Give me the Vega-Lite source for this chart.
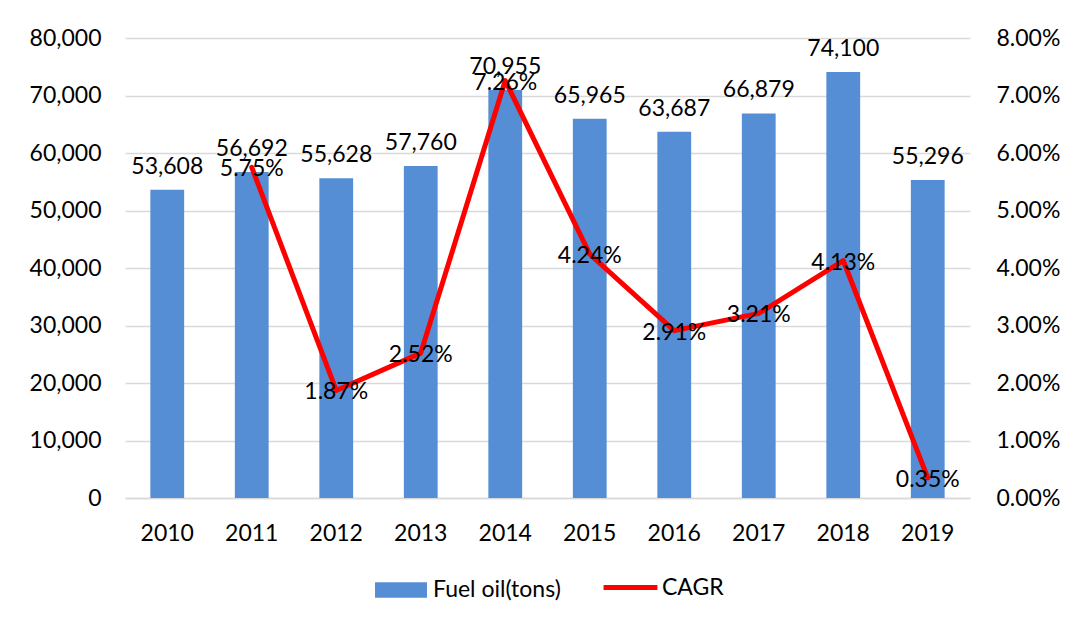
{
  "$schema": "https://vega.github.io/schema/vega-lite/v6.json",
  "width": 845,
  "height": 460,
  "autosize": "none",
  "padding": {"left": 125, "top": 38, "right": 105, "bottom": 130},
  "background": "white",
  "config": {
    "font": "Lato",
    "view": {"stroke": null},
    "axis": {"labelFont": "Lato", "labelFontSize": 23, "labelColor": "#000000", "titleFont": "Lato", "labelOverlap": false},
    "legend": {"labelFont": "Lato", "labelFontSize": 23, "labelColor": "#000000"}
  },
  "data": {
    "values": [
      {"year": "2010", "fuel": 53608, "cagr": null, "series_bar": "Fuel oil(tons)", "series_line": "CAGR"},
      {"year": "2011", "fuel": 56692, "cagr": 0.0575, "series_bar": "Fuel oil(tons)", "series_line": "CAGR"},
      {"year": "2012", "fuel": 55628, "cagr": 0.0187, "series_bar": "Fuel oil(tons)", "series_line": "CAGR"},
      {"year": "2013", "fuel": 57760, "cagr": 0.0252, "series_bar": "Fuel oil(tons)", "series_line": "CAGR"},
      {"year": "2014", "fuel": 70955, "cagr": 0.0726, "series_bar": "Fuel oil(tons)", "series_line": "CAGR"},
      {"year": "2015", "fuel": 65965, "cagr": 0.0424, "series_bar": "Fuel oil(tons)", "series_line": "CAGR"},
      {"year": "2016", "fuel": 63687, "cagr": 0.0291, "series_bar": "Fuel oil(tons)", "series_line": "CAGR"},
      {"year": "2017", "fuel": 66879, "cagr": 0.0321, "series_bar": "Fuel oil(tons)", "series_line": "CAGR"},
      {"year": "2018", "fuel": 74100, "cagr": 0.0413, "series_bar": "Fuel oil(tons)", "series_line": "CAGR"},
      {"year": "2019", "fuel": 55296, "cagr": 0.0035, "series_bar": "Fuel oil(tons)", "series_line": "CAGR"}
    ]
  },
  "encoding": {
    "x": {
      "field": "year", "type": "ordinal",
      "scale": {"paddingInner": 0.6, "paddingOuter": 0.3},
      "axis": {"title": null, "labelAngle": 0, "ticks": false, "domain": true, "domainColor": "#D9D9D9", "domainWidth": 1.5, "labelPadding": 24, "grid": false}
    }
  },
  "layer": [
    {
      "encoding": {
        "y": {
          "field": "fuel", "type": "quantitative",
          "scale": {"domain": [0, 80000]},
          "axis": {"title": null, "values": [0,10000,20000,30000,40000,50000,60000,70000,80000], "format": ",d", "ticks": false, "domain": false, "grid": true, "gridColor": "#D9D9D9", "gridWidth": 1.5, "labelPadding": 24}
        }
      },
      "layer": [
        {
          "mark": {"type": "bar", "color": "#558ED5"},
          "encoding": {
            "fill": {
              "field": "series_bar", "type": "nominal",
              "scale": {"range": ["#558ED5"]},
              "legend": {"title": null, "orient": "none", "legendX": 250, "legendY": 526, "symbolType": "M-1,-0.3H1V0.3H-1Z", "symbolSize": 2700, "symbolStrokeWidth": 0, "symbolOpacity": 1, "labelOffset": 6}
            }
          }
        },
        {
          "mark": {"type": "text", "baseline": "bottom", "dy": -11, "fontSize": 23, "color": "#000000"},
          "encoding": {
            "text": {"field": "fuel", "type": "quantitative", "format": ","}
          }
        }
      ]
    },
    {
      "encoding": {
        "y": {
          "field": "cagr", "type": "quantitative",
          "scale": {"domain": [0, 0.08]},
          "axis": {"title": null, "orient": "right", "values": [0,0.01,0.02,0.03,0.04,0.05,0.06,0.07,0.08], "format": ".2%", "ticks": false, "domain": false, "grid": false, "labelPadding": 26}
        }
      },
      "layer": [
        {
          "mark": {"type": "line", "color": "#FF0000", "strokeWidth": 5, "strokeCap": "round", "strokeJoin": "round"},
          "encoding": {
            "stroke": {
              "field": "series_line", "type": "nominal",
              "scale": {"range": ["#FF0000"]},
              "legend": {"title": null, "orient": "none", "legendX": 476, "legendY": 520, "symbolType": "stroke", "symbolSize": 2900, "symbolStrokeWidth": 5, "labelOffset": 2}
            }
          }
        },
        {
          "mark": {"type": "text", "baseline": "middle", "dy": 2, "fontSize": 23, "color": "#000000"},
          "encoding": {
            "text": {"field": "cagr", "type": "quantitative", "format": ".2%"}
          }
        }
      ]
    }
  ],
  "resolve": {"scale": {"y": "independent", "fill": "independent", "stroke": "independent"}, "legend": {"fill": "independent", "stroke": "independent"}}
}
